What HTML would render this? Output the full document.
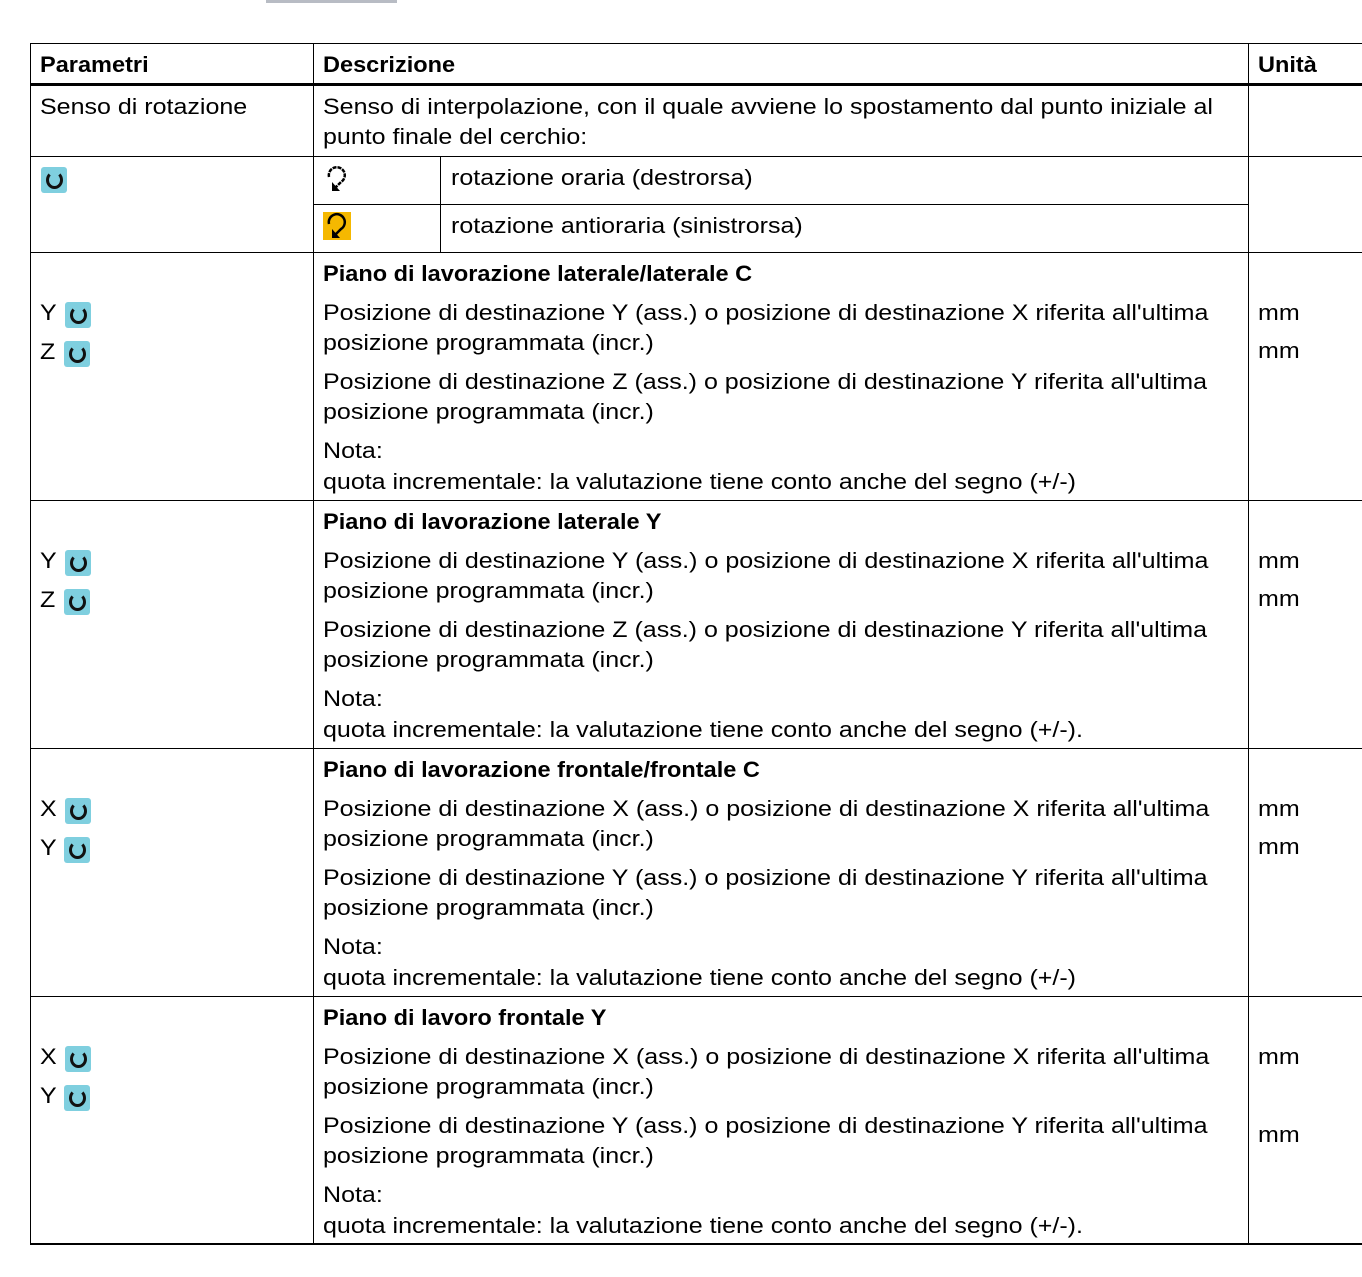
<!DOCTYPE html>
<html><head><meta charset="utf-8">
<style>
html,body{margin:0;padding:0;background:#fff;}
body{width:1362px;height:1277px;position:relative;overflow:hidden;font-family:"Liberation Sans",Arial,sans-serif;color:#000;}
.t{position:absolute;font-size:22px;line-height:30px;white-space:nowrap;transform:scaleX(1.137);transform-origin:0 50%;}
.b{font-weight:bold;transform:scaleX(1.07);}
.h{position:absolute;background:#000;height:1px;}
.v{position:absolute;background:#000;width:1px;}
.ic{position:absolute;width:26px;height:26px;background:#7fcfdf;border-radius:3px;}
.ic::after{content:"";position:absolute;left:5px;top:4px;width:11px;height:12px;border:3px solid #111;border-top-color:transparent;border-radius:50%;}
</style></head>
<body>
<div style="position:absolute;left:266px;top:0;width:131px;height:3px;background:#b8bcc4"></div>
<div id="tbl"></div>
<script>
var tbl=document.getElementById('tbl');
function line(cls,x,y,len,th,name){
  var d=document.createElement('div');d.className=cls;
  
  
  d.style.left=x+'px';d.style.top=y+'px';
  if(cls==='h'){d.style.width=len+'px';d.style.height=th+'px';}else{d.style.height=len+'px';d.style.width=th+'px';}
  tbl.appendChild(d);
}
function txt(x,cy,s,bold,name){
  var d=document.createElement('div');d.className='t'+(bold?' b':'');
  
  
  d.style.left=x+'px';d.style.top=(cy-15)+'px';d.textContent=s;tbl.appendChild(d);
}
function icon(x,cy,name){
  var d=document.createElement('div');d.className='ic';
  
  
  d.style.left=x+'px';d.style.top=(cy-13)+'px';tbl.appendChild(d);
}
line('h',30,43,1332,1,'table-top-border');
line('h',30,83,1332,3,'header-rule');
line('h',30,156,1332,1,'row-border');
line('h',313,204,935,1,'sub-row-border');
[252,500,748,996].forEach(function(y){line('h',30,y,1332,1,'section-border');});
line('h',30,1243,1332,2,'table-bottom-border');
line('v',30,43,1202,1,'left-border');
line('v',313,43,1202,1,'column-divider');
line('v',1248,43,1202,1,'column-divider');
line('v',440,156,96,1,'icon-column-divider');
txt(40,65,'Parametri',true,'header-parametri');
txt(323,65,'Descrizione',true,'header-descrizione');
txt(1258,65,'Unità',true,'header-unita');
txt(40,107,'Senso di rotazione',false,'param-label');
txt(323,107,'Senso di interpolazione, con il quale avviene lo spostamento dal punto iniziale al',false,'description');
txt(323,137,'punto finale del cerchio:',false,'description');
icon(41,180,'toggle-icon');
txt(451,178,'rotazione oraria (destrorsa)',false,'option-label');
txt(451,226,'rotazione antioraria (sinistrorsa)',false,'option-label');
var s1=document.createElementNS('http://www.w3.org/2000/svg','svg');


s1.setAttribute('style','position:absolute;left:323px;top:165px');s1.setAttribute('width','28');s1.setAttribute('height','28');
s1.innerHTML='<path d="M6 12 A8 8 0 1 1 18 17 L12 23" fill="none" stroke="#000" stroke-width="2.5" stroke-dasharray="4 1"/><path d="M9 17 L9 26 L17 26 Z" fill="#000"/>';
tbl.appendChild(s1);
var s2=document.createElementNS('http://www.w3.org/2000/svg','svg');


s2.setAttribute('style','position:absolute;left:323px;top:212px');s2.setAttribute('width','28');s2.setAttribute('height','28');
s2.innerHTML='<rect x="0" y="0" width="28" height="28" fill="#f5b800"/><path d="M6 12 A8 8 0 1 1 18 17 L12 23" fill="none" stroke="#000" stroke-width="2.5"/><path d="M9 17 L9 26 L17 26 Z" fill="#000"/>';
tbl.appendChild(s2);
var sections=[
 {y:252,title:'Piano di lavorazione laterale/laterale C',p:['Y','Z'],d:['Y','X','Z','Y'],dot:'',mm2:351},
 {y:500,title:'Piano di lavorazione laterale Y',p:['Y','Z'],d:['Y','X','Z','Y'],dot:'.',mm2:351},
 {y:748,title:'Piano di lavorazione frontale/frontale C',p:['X','Y'],d:['X','X','Y','Y'],dot:'',mm2:351},
 {y:996,title:'Piano di lavoro frontale Y',p:['X','Y'],d:['X','X','Y','Y'],dot:'.',mm2:391}
];
sections.forEach(function(s){
  var o=s.y-252;
  txt(323,274+o,s.title,true,'section-title');
  txt(40,313+o,s.p[0],false,'param-name');
  icon(65,315+o,'param-icon');
  txt(40,352+o,s.p[1],false,'param-name');
  icon(64,354+o,'param-icon');
  txt(323,313+o,'Posizione di destinazione '+s.d[0]+' (ass.) o posizione di destinazione '+s.d[1]+' riferita all\'ultima',false,'description');
  txt(323,343+o,'posizione programmata (incr.)',false,'description');
  txt(323,382+o,'Posizione di destinazione '+s.d[2]+' (ass.) o posizione di destinazione '+s.d[3]+' riferita all\'ultima',false,'description');
  txt(323,412+o,'posizione programmata (incr.)',false,'description');
  txt(323,451+o,'Nota:',false,'note-label');
  txt(323,482+o,'quota incrementale: la valutazione tiene conto anche del segno (+/-)'+s.dot,false,'note-text');
  txt(1258,313+o,'mm',false,'unit');
  txt(1258,s.mm2+o,'mm',false,'unit');
});
</script>
</body></html>
